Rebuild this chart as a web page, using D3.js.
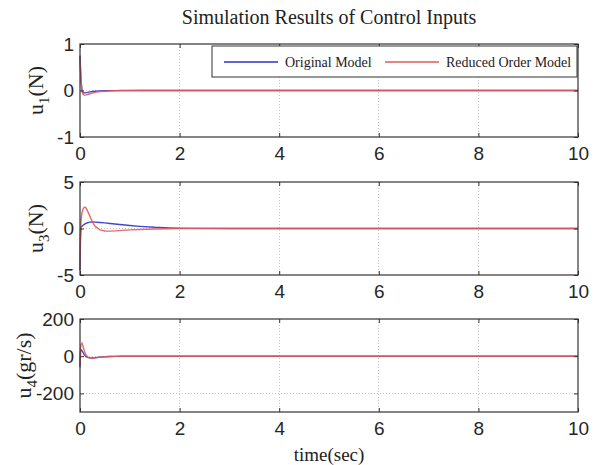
<!DOCTYPE html>
<meta charset="utf-8">
<style>
body { margin: 0; background: #fff; }
.grid line { stroke: #c8c8c8; stroke-dasharray: 1,2; shape-rendering: crispEdges; }
.tick text { font-family: "Liberation Sans", Arial, sans-serif; font-size: 19px; fill: #262626; }
</style>
<body>
<svg width="598" height="465"></svg>
<script src="https://d3js.org/d3.v7.min.js"></script>
<script>

// time samples (sec)
var time = [0, 0.01, 0.02, 0.04, 0.06, 0.08, 0.1, 0.12, 0.15, 0.2, 0.25, 0.3, 0.4, 0.5, 0.6, 0.7, 0.85, 1.0, 1.2, 1.5, 1.8, 2.0, 2.5, 3, 4, 5, 6, 8, 10];

// u1 (N)
var u1Original = [0.75, 0.45, 0.2, 0.0, -0.04, -0.05, -0.05, -0.045, -0.04, -0.03, -0.022, -0.016, -0.009, -0.005, -0.003, -0.002, -0.001, 0, 0, 0, 0, 0, 0, 0, 0, 0, 0, 0, 0];
var u1Reduced  = [0.7, 0.5, 0.25, -0.02, -0.08, -0.1, -0.1, -0.095, -0.085, -0.07, -0.055, -0.04, -0.025, -0.015, -0.01, -0.006, -0.003, -0.002, -0.001, 0, 0, 0, 0, 0, 0, 0, 0, 0, 0];

// u3 (N)
var u3Original = [-4.5, -1.0, 0.1, 0.25, 0.35, 0.42, 0.5, 0.55, 0.62, 0.68, 0.7, 0.69, 0.65, 0.6, 0.54, 0.48, 0.4, 0.32, 0.23, 0.13, 0.07, 0.04, 0.01, 0, 0, 0, 0, 0, 0];
var u3Reduced  = [-4.0, -0.5, 0.8, 1.7, 2.1, 2.25, 2.3, 2.2, 1.9, 1.3, 0.7, 0.25, -0.15, -0.27, -0.28, -0.25, -0.2, -0.15, -0.1, -0.05, -0.02, -0.01, 0, 0, 0, 0, 0, 0, 0];

// u4 (gr/s)
var u4Original = [-60, 20, 35, 30, 20, 10, 3, -2, -6, -9, -9, -8, -5, -3, -2, -1, 0, 0, 0, 0, 0, 0, 0, 0, 0, 0, 0, 0, 0];
var u4Reduced  = [-50, 40, 62, 70, 55, 35, 18, 6, -3, -10, -11, -9, -6, -3, -2, -1, 0, 0, 0, 0, 0, 0, 0, 0, 0, 0, 0, 0, 0];

var xTicks = [0, 2, 4, 6, 8, 10];
var seriesNames = ["Original Model", "Reduced Order Model"];
var seriesColors = ["#3030cc", "#e05a5a"];

var panels = [
	{ top: 44, domain: [-1, 1], ticks: [-1, 0, 1], unit: "(N)", sub: "1", labelX: 43, data: [u1Original, u1Reduced] },
	{ top: 182, domain: [-5, 5], ticks: [-5, 0, 5], unit: "(N)", sub: "3", labelX: 43, data: [u3Original, u3Reduced] },
	{ top: 319, domain: [-300, 200], ticks: [-200, 0, 200], unit: "(gr/s)", sub: "4", labelX: 31, data: [u4Original, u4Reduced] }
];

var svg = d3.select("svg");
var left = 80, right = 578, panelHeight = 93;
var plain = function(d){ return String(d); };

var x = d3.scaleLinear()
	.domain([0, 10])
	.range([left, right]);

svg.append("text")
	.attr("x", 329)
	.attr("y", 24)
	.attr("text-anchor", "middle")
	.style("font-family", "Liberation Serif, Times New Roman, serif")
	.style("font-size", "20px")
	.style("fill", "#222")
	.text("Simulation Results of Control Inputs");

panels.forEach(function(p){
	var y = d3.scaleLinear()
		.domain(p.domain)
		.range([p.top + panelHeight, p.top]);

	var g = svg.append("g");

	// grid
	var grid = g.append("g").attr("class", "grid");
	grid.selectAll(".xg").data(xTicks.slice(1, -1)).enter().append("line")
		.attr("x1", x).attr("x2", x)
		.attr("y1", p.top).attr("y2", p.top + panelHeight);
	grid.selectAll(".yg").data(p.ticks.filter(function(d){ return d > p.domain[0] && d < p.domain[1]; })).enter().append("line")
		.attr("x1", left).attr("x2", right)
		.attr("y1", y).attr("y2", y);

	// lines
	var line = d3.line()
		.x(function(d, i){ return x(time[i]); })
		.y(function(d){ return y(d); });
	p.data.forEach(function(vals, s){
		g.append("path")
			.attr("d", line(vals))
			.style("fill", "none")
			.style("stroke", seriesColors[s])
			.style("stroke-width", 1.4)
			.style("stroke-opacity", 0.9);
	});

	// box axes, ticks inward
	g.append("g")
		.attr("transform", "translate(0," + (p.top + panelHeight) + ")")
		.call(d3.axisBottom(x).tickValues(xTicks).tickFormat(plain).tickSizeInner(-4).tickSizeOuter(0).tickPadding(10));
	g.append("g")
		.attr("transform", "translate(0," + p.top + ")")
		.call(d3.axisTop(x).tickValues(xTicks).tickSizeInner(-4).tickSizeOuter(0).tickFormat(""));
	g.append("g")
		.attr("transform", "translate(" + left + ",0)")
		.call(d3.axisLeft(y).tickValues(p.ticks).tickFormat(plain).tickSizeInner(-4).tickSizeOuter(0).tickPadding(6));
	g.append("g")
		.attr("transform", "translate(" + right + ",0)")
		.call(d3.axisRight(y).tickValues(p.ticks).tickSizeInner(-4).tickSizeOuter(0).tickFormat(""));
	g.selectAll(".domain").remove();
	g.selectAll(".tick line").style("stroke", "#333");
	g.append("rect")
		.attr("x", left).attr("y", p.top)
		.attr("width", right - left).attr("height", panelHeight)
		.style("fill", "none").style("stroke", "#333").style("stroke-width", 1.2);

	// y label
	var lab = g.append("text")
		.attr("transform", "translate(" + p.labelX + "," + (p.top + panelHeight / 2) + ") rotate(-90)")
		.attr("text-anchor", "middle")
		.style("font-family", "Liberation Serif, Times New Roman, serif")
		.style("font-size", "22px")
		.style("fill", "#222");
	lab.append("tspan").text("u");
	lab.append("tspan").attr("dy", 6).style("font-size", "15px").text(p.sub);
	lab.append("tspan").attr("dy", -6).text(p.unit);
});

svg.append("text")
	.attr("x", 329)
	.attr("y", 461)
	.attr("text-anchor", "middle")
	.style("font-family", "Liberation Serif, Times New Roman, serif")
	.style("font-size", "19px")
	.style("fill", "#222")
	.text("time(sec)");

// legend
var legend = svg.append("g");
legend.append("rect")
	.attr("x", 212).attr("y", 46)
	.attr("width", 365).attr("height", 31)
	.style("fill", "#fff").style("stroke", "#333").style("stroke-width", 1);
var legX = [224, 385];
seriesNames.forEach(function(name, i){
	legend.append("line")
		.attr("x1", legX[i]).attr("x2", legX[i] + 54)
		.attr("y1", 62).attr("y2", 62)
		.style("stroke", seriesColors[i]).style("stroke-width", 1.4);
	legend.append("text")
		.attr("x", legX[i] + 61).attr("y", 67)
		.style("font-family", "Liberation Serif, Times New Roman, serif")
		.style("font-size", "14px")
		.style("fill", "#222")
		.text(name);
});

</script>
</body>
